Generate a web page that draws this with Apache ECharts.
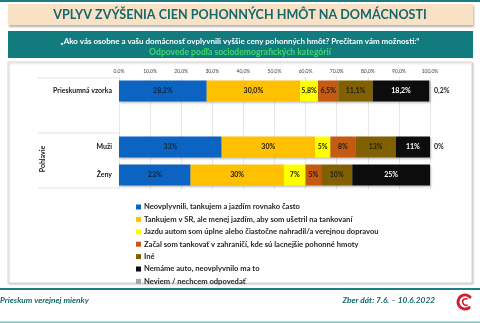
<!DOCTYPE html>
<html>
<head>
<meta charset="utf-8">
<script src="https://cdn.jsdelivr.net/npm/echarts@6/dist/echarts.min.js"></script>
<style>
html,body{margin:0;padding:0;background:#fff;}
#c{width:480px;height:323px;}
</style>
</head>
<body>
<div id="c"></div>
<script>
var categories = ['Prieskumná vzorka', '', 'Muži', 'Ženy'];
var decimals = [1, 0, 0, 0];
var seriesNames = [
  'Neovplyvnili, tankujem a jazdím rovnako často',
  'Tankujem v SR, ale menej jazdím, aby som ušetril na tankovaní',
  'Jazdu autom som úplne alebo čiastočne nahradil/a verejnou dopravou',
  'Začal som tankovať v zahraničí, kde sú lacnejšie pohonné hmoty',
  'Iné',
  'Nemáme auto, neovplyvnilo ma to',
  'Neviem / nechcem odpovedať'
];
var s1 = [28.2, null, 33, 23];
var s2 = [30.0, null, 30, 30];
var s3 = [5.8, null, 5, 7];
var s4 = [6.5, null, 8, 5];
var s5 = [11.1, null, 13, 10];
var s6 = [18.2, null, 11, 25];
var s7 = [0.2, null, 0, null];
var xTicks = ['0,0%','10,0%','20,0%','30,0%','40,0%','50,0%','60,0%','70,0%','80,0%','90,0%','100,0%'];
var colors = ['#0b63c2', '#ffc000', '#ffff00', '#c55a11', '#806000', '#0c0c0c', '#a6a6a6'];
var labelColors = ['#10243f', '#1a1a1a', '#1a1a1a', '#1a1a1a', '#1a1a1a', '#ffffff', '#1a1a1a'];
var allData = [s1, s2, s3, s4, s5, s6, s7];

function fmt(v, idx) {
  return v.toFixed(decimals[idx]).replace('.', ',') + '%';
}

var FONT = 'Lato, "Open Sans", sans-serif';
var chart = echarts.init(document.getElementById('c'), null, {renderer: 'canvas'});

var series = allData.map(function (d, i) {
  var last = i === 6;
  return {
    name: seriesNames[i],
    type: 'bar',
    stack: 'all',
    data: d,
    barWidth: 21,
    itemStyle: {color: colors[i], shadowColor: 'rgba(0,0,0,0.25)', shadowBlur: 2, shadowOffsetX: 1, shadowOffsetY: 1},
    label: {
      show: true,
      position: last ? 'right' : 'inside',
      distance: last ? 4 : 5,
      fontSize: 7,
      fontWeight: 'bold',
      fontFamily: FONT,
      color: labelColors[i],
      formatter: function (p) {
        if (p.value === null || p.value === undefined) return '';
        return fmt(p.value, p.dataIndex);
      }
    }
  };
});

var option = {
  animation: false,
  textStyle: {fontFamily: FONT},
  grid: {left: 119, right: 50, top: 77, height: 112},
  xAxis: {
    type: 'value', position: 'top', min: 0, max: 100, interval: 10,
    axisLine: {show: false}, axisTick: {show: false},
    splitLine: {lineStyle: {color: '#e6e6e6', width: 1}},
    axisLabel: {fontSize: 5, color: '#404040', margin: 3, fontFamily: FONT,
      formatter: function (v) { return xTicks[Math.round(v / 10)]; }}
  },
  yAxis: {
    type: 'category', data: categories, inverse: true,
    axisLine: {show: false}, axisTick: {show: false},
    axisLabel: {fontSize: 7, fontWeight: 'bold', color: '#1a1a1a', margin: 7, fontFamily: FONT}
  },
  legend: {
    orient: 'vertical', left: 131, top: 198,
    itemWidth: 5, itemHeight: 5, itemGap: 4.4, icon: 'rect',
    textStyle: {fontSize: 7.6, fontWeight: 'bold', color: '#262626', lineHeight: 8, padding: [0, 0, 0, -2], fontFamily: FONT},
    data: seriesNames
  },
  graphic: [
    {type: 'rect', shape: {x: 0, y: 0, width: 480, height: 2}, style: {fill: '#1e7d80'}, z: -10},
    {type: 'rect', shape: {x: 8, y: 4, width: 465, height: 21}, style: {fill: '#f8e1c4', shadowColor: 'rgba(0,0,0,0.3)', shadowBlur: 2, shadowOffsetY: 1.5, shadowOffsetX: 1}, z: -10},
    {type: 'text', x: 240, y: 15, style: {text: 'VPLYV ZVÝŠENIA CIEN POHONNÝCH HMÔT NA DOMÁCNOSTI', fill: '#15686c', font: 'bold 12.6px ' + FONT, align: 'center', verticalAlign: 'middle'}, z: 10},
    {type: 'rect', shape: {x: 8, y: 31, width: 465, height: 27}, style: {fill: '#127b7e'}, z: -10},
    {type: 'text', x: 240, y: 41.5, style: {text: '„Ako vás osobne a vašu domácnosť ovplyvnili vyššie ceny pohonných hmôt? Prečítam vám možnosti:“', fill: '#ffffff', font: 'bold 8px ' + FONT, align: 'center', verticalAlign: 'middle'}, z: 10},
    {type: 'text', x: 240, y: 52, style: {text: 'Odpovede podľa sociodemografických kategórií', fill: '#3ddc6a', font: 'bold 8.6px ' + FONT, align: 'center', verticalAlign: 'middle'}, z: 10},
    {type: 'rect', shape: {x: 8, y: 62, width: 464, height: 221}, style: {fill: '#ffffff', stroke: '#d8d8d8', lineWidth: 1, shadowColor: 'rgba(0,0,0,0.2)', shadowBlur: 2, shadowOffsetX: 1, shadowOffsetY: 1}, z: -20},
    {type: 'line', shape: {x1: 38, y1: 78, x2: 119, y2: 78}, style: {stroke: '#e3e3e3', lineWidth: 1}, z: 5},
    {type: 'line', shape: {x1: 38, y1: 133, x2: 119, y2: 133}, style: {stroke: '#e3e3e3', lineWidth: 1}, z: 5},
    {type: 'line', shape: {x1: 38, y1: 188, x2: 119, y2: 188}, style: {stroke: '#e3e3e3', lineWidth: 1}, z: 5},
    {type: 'text', x: 43, y: 159, rotation: Math.PI / 2, style: {text: 'Pohlavie', fill: '#1a1a1a', font: 'bold 7px ' + FONT, align: 'center', verticalAlign: 'middle'}, z: 10},
    {type: 'rect', shape: {x: 0, y: 288, width: 480, height: 2}, style: {fill: '#1e7d80'}, z: -10},
    {type: 'rect', shape: {x: 0, y: 321.5, width: 480, height: 1.5}, style: {fill: '#7fbfbf'}, z: -10},
    {type: 'text', x: 0, y: 300, style: {text: 'Prieskum verejnej mienky', fill: '#15686c', font: 'italic bold 8.3px ' + FONT, align: 'left', verticalAlign: 'middle'}, z: 10},
    {type: 'text', x: 435, y: 300, style: {text: 'Zber dát: 7.6. – 10.6.2022', fill: '#15686c', font: 'italic bold 8.3px ' + FONT, align: 'right', verticalAlign: 'middle'}, z: 10},
    {type: 'arc', shape: {cx: 465, cy: 302, r: 7, startAngle: Math.PI * 0.3, endAngle: Math.PI * 1.75}, style: {stroke: '#d0202e', lineWidth: 3, fill: null, lineCap: 'round'}, z: 10},
    {type: 'arc', shape: {cx: 466, cy: 302, r: 3.3, startAngle: Math.PI * 0.4, endAngle: Math.PI * 1.6}, style: {stroke: '#d0202e', lineWidth: 1.6, fill: null, lineCap: 'round'}, z: 10}
  ],
  series: series
};
chart.setOption(option);
</script>
</body>
</html>
